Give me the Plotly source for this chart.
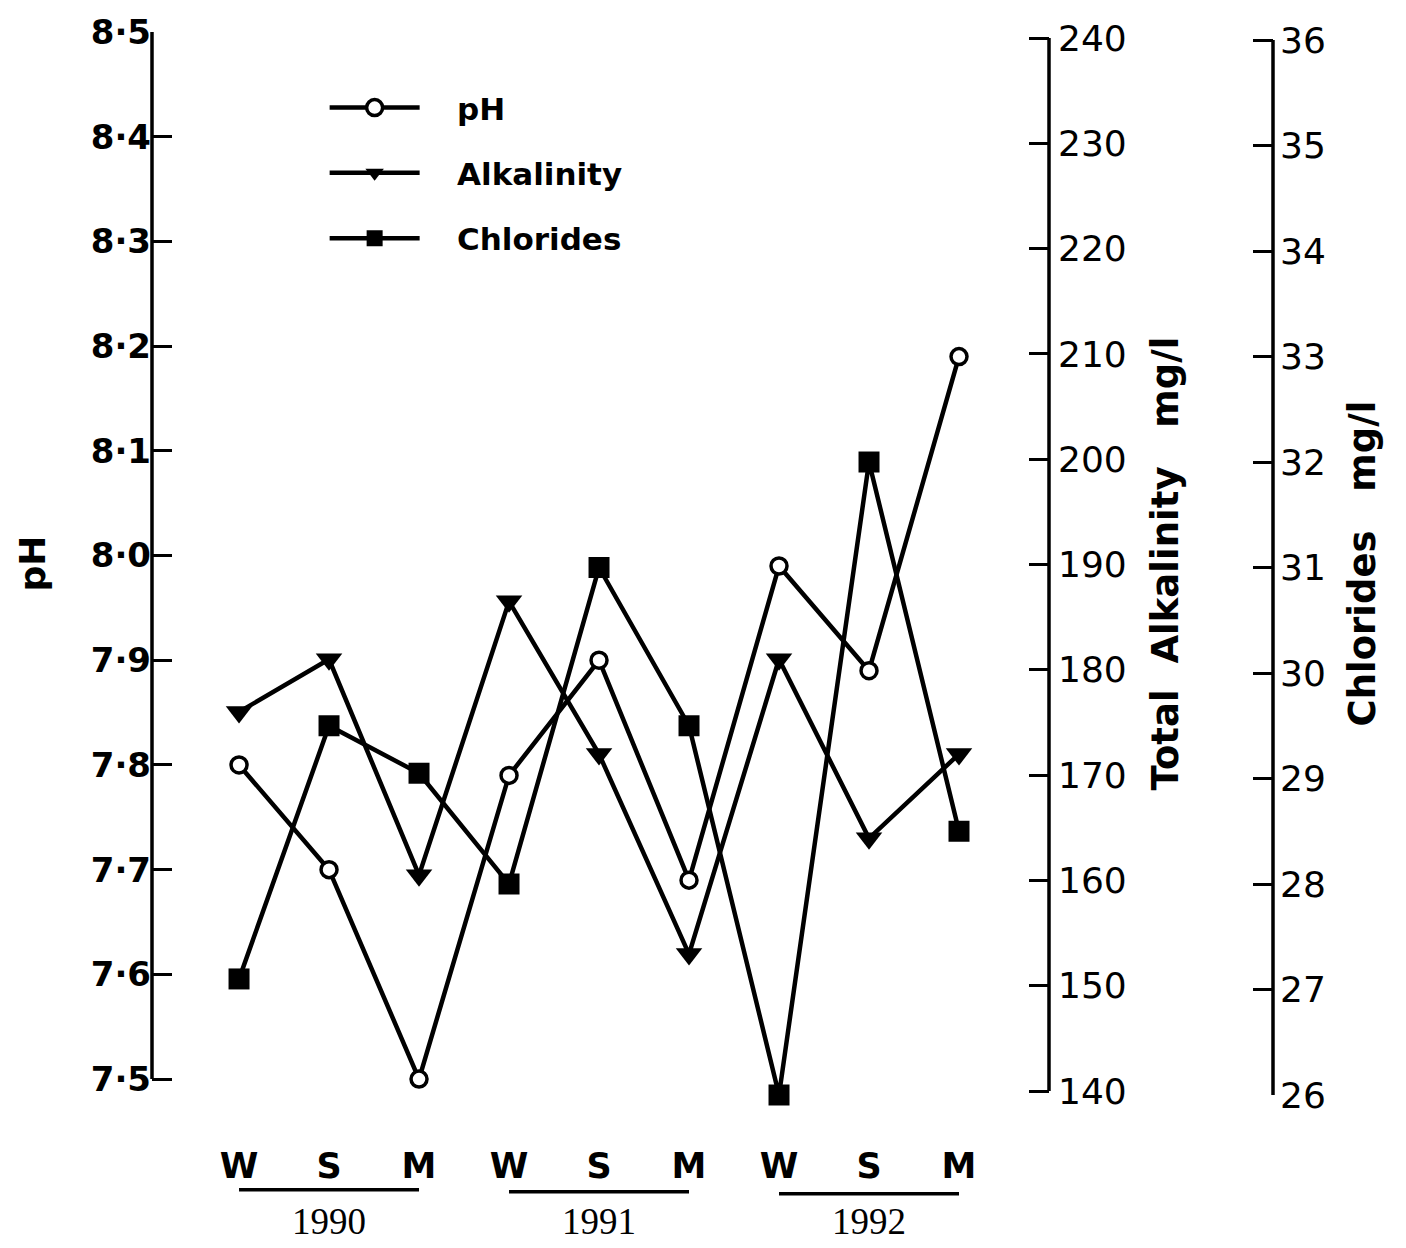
import plotly.graph_objects as go

seasons = ["W", "S", "M", "W", "S", "M", "W", "S", "M"]
years = ["1990", "1991", "1992"]
ph = [7.80, 7.70, 7.50, 7.79, 7.90, 7.69, 7.99, 7.89, 8.19]
alkalinity = [176, 181, 160.5, 186.5, 172, 153, 181, 164, 172]
chlorides = [27.1, 29.5, 29.05, 28.0, 31.0, 29.5, 26.0, 32.0, 28.5]

ph_ticks = [7.5, 7.6, 7.7, 7.8, 7.9, 8.0, 8.1, 8.2, 8.3, 8.4, 8.5]
alk_ticks = [140, 150, 160, 170, 180, 190, 200, 210, 220, 230, 240]
chl_ticks = [26, 27, 28, 29, 30, 31, 32, 33, 34, 35, 36]

xs = list(range(len(seasons)))
FONT = "DejaVu Sans"
NB = "\u00a0"

fig = go.Figure()
fig.add_trace(go.Scatter(
    x=xs, y=ph, name=NB * 3 + "pH", mode="lines+markers", yaxis="y",
    line=dict(color="black", width=4.5),
    marker=dict(symbol="circle", size=16, color="white", line=dict(color="black", width=3.5)),
    cliponaxis=False, legendgroup="a"))
fig.add_trace(go.Scatter(
    x=xs, y=alkalinity, name=NB * 3 + "Alkalinity", mode="lines+markers", yaxis="y2",
    line=dict(color="black", width=4.5),
    marker=dict(symbol="triangle-down", size=23, color="black"),
    cliponaxis=False, legendgroup="b"))
fig.add_trace(go.Scatter(
    x=xs, y=chlorides, name=NB * 3 + "Chlorides", mode="lines+markers", yaxis="y3",
    line=dict(color="black", width=4.5),
    marker=dict(symbol="square", size=21, color="black"),
    cliponaxis=False, legendgroup="c"))

L, R_ALK, R_CHL, TOP, BOT = 152, 1049, 1273, 28, 1095
W, H = 1406, 1248
xdom_end = (R_ALK - L) / (R_CHL - L)

common = dict(showline=False, ticks="inside", ticklen=20, tickwidth=3,
              tickcolor="black", showgrid=False, zeroline=False)

fig.update_layout(
    width=W, height=H,
    margin=dict(l=L, r=W - R_CHL, t=TOP, b=H - BOT),
    paper_bgcolor="white", plot_bgcolor="white",
    showlegend=True,
    legend=dict(x=0.154, y=0.954, xanchor="left", yanchor="top",
                font=dict(family=FONT, size=31, color="black", weight="bold"),
                itemwidth=90, tracegroupgap=22, bgcolor="rgba(0,0,0,0)"),
    xaxis=dict(domain=[0, xdom_end], range=[-0.967, 9.0],
               tickvals=xs, ticktext=seasons, showline=False, showgrid=False,
               zeroline=False, ticks="", ticklabelstandoff=47,
               tickfont=dict(family=FONT, size=35, color="black", weight="bold")),
    yaxis=dict(range=[7.4848, 8.5], tickvals=ph_ticks,
               ticktext=[f"{v:.1f}".replace(".", "·") for v in ph_ticks],
               tickfont=dict(family=FONT, size=34, color="black", weight="bold"),
               title=dict(text="pH", standoff=34,
                          font=dict(family=FONT, size=36, color="black", weight="bold")),
               **common),
    yaxis2=dict(range=[139.62, 240.57], tickvals=alk_ticks, overlaying="y", side="right",
                anchor="x", ticklabelstandoff=8,
                tickfont=dict(family=FONT, size=36, color="black"),
                title=dict(text="Total  Alkalinity   mg/l", standoff=26,
                           font=dict(family=FONT, size=37, color="black", weight="bold")),
                **common),
    yaxis3=dict(range=[26.0, 36.076], tickvals=chl_ticks, overlaying="y", side="right",
                anchor="free", position=1.0, ticklabelstandoff=6,
                tickfont=dict(family=FONT, size=36, color="black"),
                title=dict(text="Chlorides   mg/l", standoff=24,
                           font=dict(family=FONT, size=37, color="black", weight="bold")),
                **common),
)

# axis spines, drawn only over each axis's labelled span
fig.add_shape(type="line", xref="paper", yref="y", x0=0, x1=0,
              y0=ph_ticks[0], y1=ph_ticks[-1], line=dict(color="black", width=3.5))
fig.add_shape(type="line", xref="paper", yref="y2", x0=xdom_end, x1=xdom_end,
              y0=alk_ticks[0], y1=alk_ticks[-1], line=dict(color="black", width=3.5))
fig.add_shape(type="line", xref="paper", yref="y3", x0=1, x1=1,
              y0=chl_ticks[0], y1=chl_ticks[-1], line=dict(color="black", width=3.5))

# year underlines and labels
span = BOT - TOP
for i, yr in enumerate(years):
    a, b = 3 * i, 3 * i + 2
    yl = -(1190 + 2 * i - BOT) / span
    fig.add_shape(type="line", xref="x", yref="paper", x0=a, x1=b,
                  y0=yl, y1=yl, line=dict(color="black", width=3.5))
    fig.add_annotation(x=(a + b) / 2, y=-(1222 - BOT) / span, xref="x", yref="paper",
                       text=yr, showarrow=False, yanchor="middle",
                       font=dict(family="Liberation Serif", size=37, color="black"))

fig.write_html("out.html")
